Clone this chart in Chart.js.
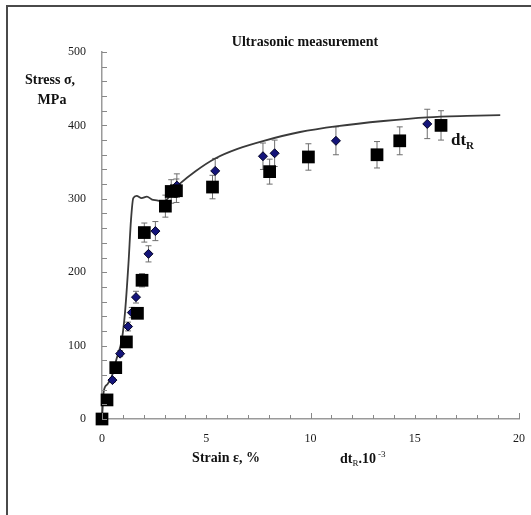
<!DOCTYPE html>
<html>
<head>
<meta charset="utf-8">
<script src="https://cdn.jsdelivr.net/npm/chart.js@4.4.1/dist/chart.umd.min.js"></script>
<style>
    html, body { margin: 0; padding: 0; background: #fff; overflow: hidden; }
    #wrap { position: relative; width: 531px; height: 515px; }
    #frame { position: absolute; left: 6px; top: 5px; width: 600px; height: 600px;
             border-left: 2px solid #4a4a4a; border-top: 2px solid #4a4a4a; pointer-events: none; }
</style>
</head>
<body>
<div id="wrap">
    <canvas id="chartStress" width="531" height="515"></canvas>
    <div id="frame"></div>
</div>
<script>
// ── Data ──────────────────────────────────────────────────────
const curveX = [0, 0.03, 0.08, 0.25, 0.47, 0.7, 0.95, 1.1, 1.27, 1.39, 1.5, 1.66, 1.9, 2.15, 2.4, 2.63, 2.95, 3.2, 3.43, 3.75, 4.5, 5.43, 6.5, 7.76, 9.5, 11.3, 13.5, 15.6, 17.5, 19.1];
const curveY = [0, 15, 37, 47, 58, 82, 108, 144, 212, 271, 301, 304, 301, 303, 299, 298, 296, 302, 312, 321, 338, 355, 368, 379, 391, 399, 406, 411, 413, 414];

const squareX   = [0, 0.24, 0.66, 1.17, 1.70, 1.92, 2.03, 3.04, 3.32, 3.57, 5.30, 8.04, 9.90, 13.19, 14.28, 16.26];
const squareY   = [0, 26, 70, 105, 144, 189, 254, 290, 310, 311, 316, 337, 357, 360, 379, 400];
const squareErr = [0, 2, 4, 5, 7, 9, 13, 15, 16, 16, 16, 17, 18, 18, 19, 20];

const diamondX   = [0.50, 0.87, 1.25, 1.43, 1.63, 2.23, 2.56, 3.59, 5.43, 7.72, 8.28, 11.22, 15.6];
const diamondY   = [53, 89, 126, 145, 166, 225, 256, 318, 338, 358, 362, 379, 402];
const diamondErr = [3, 4, 6, 7, 8, 11, 13, 16, 17, 18, 18, 19, 20];

const xTickStep = 5, xMinorStep = 1, xMax = 20;
const yTickStep = 100, yMinorStep = 20, yMax = 500;

function toPoints(xs, ys) { return xs.map(function (x, i) { return { x: x, y: ys[i] }; }); }

const serif = '"Liberation Serif", "Times New Roman", serif';

// ── Error bars (drawn behind the markers) ─────────────────────
const errorBars = {
    id: 'errorBars',
    beforeDatasetsDraw: function (chart) {
        const ctx = chart.ctx, sx = chart.scales.x, sy = chart.scales.y;
        const sets = [[squareX, squareY, squareErr], [diamondX, diamondY, diamondErr]];
        ctx.save();
        ctx.strokeStyle = '#6e6e6e';
        ctx.lineWidth = 1;
        sets.forEach(function (s) {
            s[0].forEach(function (x, i) {
                if (!s[2][i]) return;
                const px = sx.getPixelForValue(x);
                const top = sy.getPixelForValue(s[1][i] + s[2][i]);
                const bot = sy.getPixelForValue(s[1][i] - s[2][i]);
                ctx.beginPath();
                ctx.moveTo(px, top); ctx.lineTo(px, bot);
                ctx.moveTo(px - 3, top); ctx.lineTo(px + 3, top);
                ctx.moveTo(px - 3, bot); ctx.lineTo(px + 3, bot);
                ctx.stroke();
            });
        });
        ctx.restore();
    }
};

// ── Inner tick marks + free texts ─────────────────────────────
const decorations = {
    id: 'decorations',
    afterDraw: function (chart) {
        const ctx = chart.ctx, sx = chart.scales.x, sy = chart.scales.y;
        const area = chart.chartArea;
        ctx.save();
        ctx.strokeStyle = '#888';
        ctx.lineWidth = 1;
        ctx.beginPath();
        for (let v = 0; v <= yMax; v += yMinorStep) {
            const py = Math.round(sy.getPixelForValue(v)) + 0.5;
            ctx.moveTo(area.left, py); ctx.lineTo(area.left + 5, py);
        }
        for (let v = 0; v <= xMax; v += xMinorStep) {
            const px = Math.round(sx.getPixelForValue(v)) + 0.5;
            ctx.moveTo(px, area.bottom); ctx.lineTo(px, area.bottom - (v % 10 === 0 ? 6 : 4));
        }
        ctx.stroke();

        ctx.fillStyle = '#111';
        ctx.textBaseline = 'alphabetic';
        ctx.textAlign = 'center';
        ctx.font = 'bold 14px ' + serif;
        ctx.fillText('Ultrasonic measurement', 305, 46);
        ctx.fillText('Stress σ,', 50, 84);
        ctx.fillText('MPa', 52, 104);
        ctx.fillText('Strain ε, %', 226, 462);

        // dtR.10-3 below the axis
        ctx.textAlign = 'left';
        let x = 340;
        ctx.font = 'bold 14px ' + serif;
        ctx.fillText('dt', x, 463); x += ctx.measureText('dt').width;
        ctx.font = '9px ' + serif;
        ctx.fillText('R', x, 466); x += ctx.measureText('R').width;
        ctx.font = 'bold 14px ' + serif;
        ctx.fillText('.10', x, 463); x += ctx.measureText('.10').width + 2;
        ctx.font = '9px ' + serif;
        ctx.fillText('-3', x, 457);

        // dtR label next to the curve
        x = 451;
        ctx.font = 'bold 17px ' + serif;
        ctx.fillText('dt', x, 145); x += ctx.measureText('dt').width;
        ctx.font = 'bold 11px ' + serif;
        ctx.fillText('R', x, 149);
        ctx.restore();
    }
};

document.addEventListener('DOMContentLoaded', function () {
    const ctxStress = document.getElementById('chartStress');
    new Chart(ctxStress.getContext('2d'), {
        type: 'scatter',
        data: {
            datasets: [{
                label: 'Squares',
                data: toPoints(squareX, squareY),
                pointStyle: 'rect',
                pointRadius: 9,
                backgroundColor: '#000',
                borderColor: '#000',
                borderWidth: 0,
                clip: false,
                order: 1
            }, {
                label: 'Diamonds',
                data: toPoints(diamondX, diamondY),
                pointStyle: 'rectRot',
                pointRadius: 4.5,
                backgroundColor: '#14147a',
                borderColor: '#000022',
                borderWidth: 1,
                clip: false,
                order: 2
            }, {
                label: 'dtR',
                type: 'line',
                data: toPoints(curveX, curveY),
                borderColor: '#3a3a3a',
                borderWidth: 1.8,
                pointRadius: 0,
                fill: false,
                cubicInterpolationMode: 'monotone',
                clip: false,
                order: 3
            }]
        },
        options: {
            responsive: false,
            animation: false,
            layout: { padding: { top: 52, right: 12, left: 0, bottom: 0 } },
            plugins: { legend: { display: false }, tooltip: { enabled: false }, title: { display: false } },
            scales: {
                x: {
                    type: 'linear', min: 0, max: xMax,
                    grid: { display: false },
                    border: { display: true, color: '#9a9a9a', width: 1.5 },
                    ticks: { stepSize: xTickStep, padding: 5, color: '#1a1a1a', font: { family: serif, size: 12 } },
                    afterFit: function (s) { s.height = 96; }
                },
                y: {
                    type: 'linear', min: 0, max: yMax,
                    grid: { display: false },
                    border: { display: true, color: '#9a9a9a', width: 1.5 },
                    ticks: { stepSize: yTickStep, padding: 8, color: '#1a1a1a', font: { family: serif, size: 12 } },
                    afterFit: function (s) { s.width = 102; }
                }
            }
        },
        plugins: [errorBars, decorations]
    });
});
</script>
</body>
</html>
